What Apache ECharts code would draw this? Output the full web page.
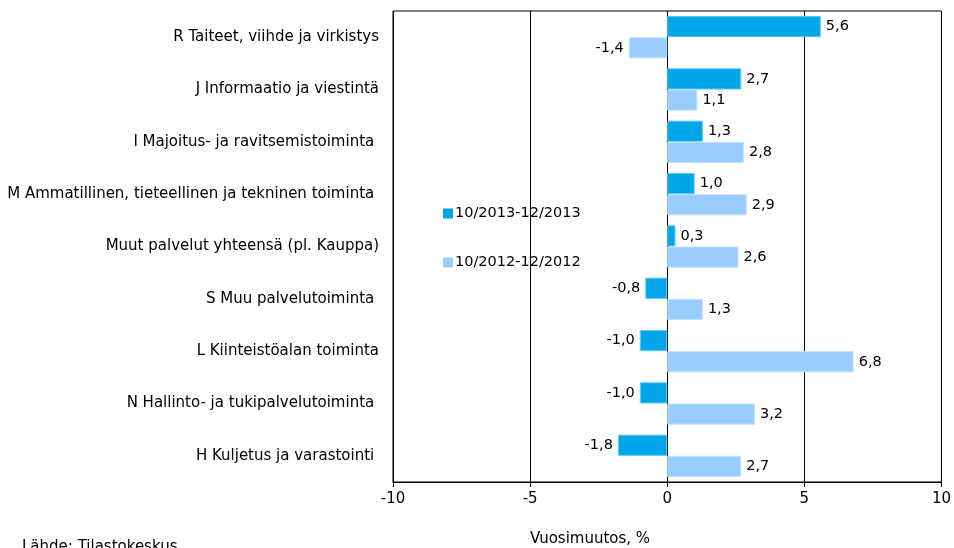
<!DOCTYPE html>
<html><head><meta charset="utf-8">
<script src="https://cdn.jsdelivr.net/npm/echarts@6/dist/echarts.min.js"></script>
<style>html,body{margin:0;padding:0;background:#fff}#c{width:954px;height:548px}</style>
</head><body><div id="c"></div>
<script>
const categories = [
  "R Taiteet, viihde ja virkistys",
  "J Informaatio ja viestintä",
  "I Majoitus- ja ravitsemistoiminta ",
  "M Ammatillinen, tieteellinen ja tekninen toiminta ",
  "Muut palvelut yhteensä (pl. Kauppa)",
  "S Muu palvelutoiminta ",
  "L Kiinteistöalan toiminta",
  "N Hallinto- ja tukipalvelutoiminta ",
  "H Kuljetus ja varastointi "
];
const series2013 = [5.6, 2.7, 1.3, 1.0, 0.3, -0.8, -1.0, -1.0, -1.8];
const series2012 = [-1.4, 1.1, 2.8, 2.9, 2.6, 1.3, 6.8, 3.2, 2.7];
const seriesNames = ["10/2013-12/2013", "10/2012-12/2012"];
const xTicks = [-10, -5, 0, 5, 10];

const font = "DejaVu Sans, sans-serif";
function mk(vals){
  return vals.map(v => ({value: v, label: {position: v < 0 ? 'left' : 'right'}}));
}
const chart = echarts.init(document.getElementById('c'));
chart.setOption({
  animation: false,
  grid: {left: 393, right: 10, top: 11, bottom: 66, show: true, borderColor: '#000', borderWidth: 1},
  legend: {
    orient: 'vertical', left: 438, top: 201, itemGap: 34, itemWidth: 10, itemHeight: 10,
    icon: 'rect', itemStyle: {borderWidth: 0},
    textStyle: {fontFamily: font, fontSize: 14.5, color: '#000', padding: [0,0,0,-3]},
    data: seriesNames
  },
  xAxis: {
    type: 'value', min: xTicks[0], max: xTicks[xTicks.length-1], interval: 5,
    axisLine: {show: true, lineStyle: {color: '#000'}},
    axisTick: {show: true, length: 5, lineStyle: {color: '#000'}},
    axisLabel: {fontFamily: font, fontSize: 15, color: '#000', margin: 10},
    splitLine: {show: true, lineStyle: {color: '#000', width: 1}}
  },
  yAxis: {
    type: 'category', data: categories, inverse: true,
    axisLine: {show: false}, axisTick: {show: false},
    axisLabel: {fontFamily: font, fontSize: 15, color: '#000', margin: 14}
  },
  series: [
    {name: seriesNames[0], type: 'bar', data: mk(series2013), barGap: '0%', barCategoryGap: '19%',
     itemStyle: {color: '#00A6E8', borderColor: '#5ccaf5', borderWidth: 1},
     label: {show: true, distance: 5, fontFamily: font, fontSize: 14.5, color: '#000',
       formatter: p => p.value.toFixed(1).replace('.', ',')}},
    {name: seriesNames[1], type: 'bar', data: mk(series2012),
     itemStyle: {color: '#99CCFF', borderColor: '#c2e0ff', borderWidth: 1},
     label: {show: true, distance: 5, fontFamily: font, fontSize: 14.5, color: '#000',
       formatter: p => p.value.toFixed(1).replace('.', ',')}}
  ],
  graphic: [
    {type: 'text', x: 590, y: 532, style: {text: 'Vuosimuutos, %', font: '15px ' + font, fill: '#000', align: 'center'}},
    {type: 'text', x: 22, y: 540, style: {text: 'Lähde: Tilastokeskus', font: '15px ' + font, fill: '#000'}}
  ]
});
</script></body></html>
